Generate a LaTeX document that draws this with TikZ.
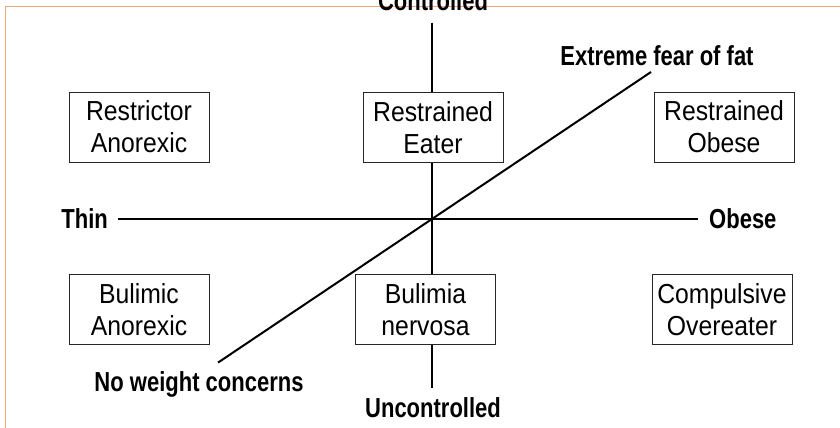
\documentclass[tikz,border=0pt]{standalone}
\usepackage{fontspec}
\newfontfamily\casefont[FakeStretch=0.9]{Liberation Sans}
\newfontfamily\axefont[FakeStretch=0.8]{Liberation Sans}
\usetikzlibrary{positioning}
\definecolor{cadre}{HTML}{F2A674}

\tikzset{
  case/.style={draw=black!85, fill=white, line width=1pt, minimum width=140pt, minimum height=70pt, align=center, inner sep=0pt, font=\casefont\fontsize{27.5}{32}\selectfont},
  axe/.style={line width=2pt},
  libelle/.style={inner sep=0pt, font=\axefont\bfseries\fontsize{27.5}{30}\selectfont},
}

\begin{document}
\begin{tikzpicture}[x=1pt,y=-1pt]

\useasboundingbox (0,0) rectangle (840,428);
\clip (0,0) rectangle (840,428);

% cadre
\draw[cadre, line width=1.8pt] (5.5,428) -- (5.5,6.5) -- (840,6.5);

% axes
\coordinate (C) at (432,22.7);
\coordinate (U) at (432,388);
\coordinate (T) at (118,219);
\coordinate (O) at (698,219);
\coordinate (N) at (218,362.6);
\coordinate (E) at (651,72);
\draw[axe] (C) -- (U);
\draw[axe] (T) -- (O);
\draw[axe] (N) -- (E);

% textes
\node[libelle, anchor=base] (ctrl) at (433,11) {Controlled};
\node[libelle, anchor=base] (unctrl) at (433,417) {Uncontrolled};
\node[libelle, anchor=east] (thin) at (108,219) {Thin};
\node[libelle, anchor=west] (obese) at (709,219) {Obese};
\node[libelle, anchor=base] (fear) at (657,66) {Extreme fear of fat};
\node[libelle, anchor=base] (nowt) at (199,391) {No weight concerns};

% cases
\node[case] (ra) at (139,127) {Restrictor\\Anorexic};
\node[case] (re) at (433,127.3) {Restrained\\Eater};
\node[case] (ro) at (724,127) {Restrained\\Obese};
\node[case] (ba) at (139,309.5) {Bulimic\\Anorexic};
\node[case] (bn) at (425.5,309.5) {Bulimia\\nervosa};
\node[case] (co) at (722,309.5) {Compulsive\\Overeater};

\end{tikzpicture}
\end{document}
